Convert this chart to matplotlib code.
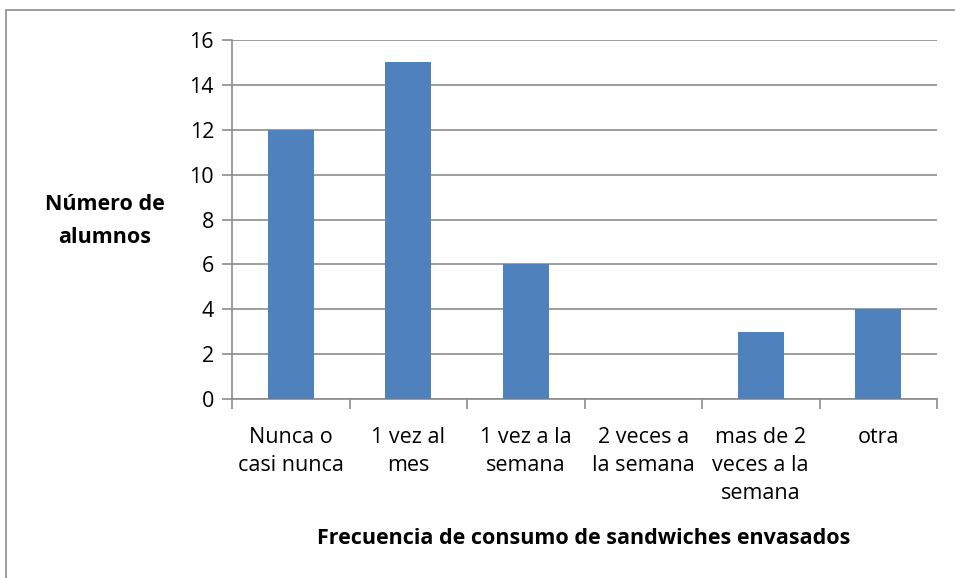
import matplotlib
matplotlib.use('Agg')
import matplotlib.pyplot as plt
from matplotlib.patches import Rectangle
import numpy as np

categorias = ['Nunca o\ncasi nunca', '1 vez al\nmes', '1 vez a la\nsemana',
              '2 veces a\nla semana', 'mas de 2\nveces a la\nsemana', 'otra']
alumnos = [12, 15, 6, 0, 3, 4]

plt.rcParams['font.family'] = ['Open Sans', 'DejaVu Sans']

fig = plt.figure(figsize=(9.55, 5.78), dpi=100)
ax = fig.add_axes([232/955, 1-399/578, 705/955, 359/578])

# chart border (only left/top visible in the crop)
fig.patches.append(Rectangle((6/955, -0.1), 1.2, 1.1-10/578, transform=fig.transFigure,
                             fill=False, edgecolor='#8c8c8c', linewidth=1.2))

x = np.arange(len(categorias))
ax.bar(x, alumnos, width=0.39, color='#4F81BD', zorder=3)

ax.set_xlim(-0.5, len(categorias)-0.5)
ax.set_ylim(0, 16)
ax.set_yticks(range(0, 17, 2))
ax.yaxis.grid(True, color='#8c8c8c', linewidth=1.2)
ax.set_axisbelow(True)

ax.set_xticks(x)
ax.set_xticklabels(categorias, fontsize=15.5, linespacing=1.45)
ax.set_xticks(np.arange(-0.5, len(categorias)), minor=True)
ax.tick_params(axis='x', which='major', length=0, pad=20)
ax.tick_params(axis='x', which='minor', length=7, width=1.2, color='#8c8c8c')
ax.tick_params(axis='y', length=7, width=1.2, color='#8c8c8c', labelsize=15.5, pad=6)

for s in ['top', 'right']:
    ax.spines[s].set_visible(False)
for s in ['left', 'bottom']:
    ax.spines[s].set_color('#8c8c8c')
    ax.spines[s].set_linewidth(1.2)

fig.text(105/955, 1-221/578, 'Número de\nalumnos', ha='center', va='center',
         fontsize=15.5, fontweight='bold', linespacing=1.75)
fig.text(584/955, 1-539/578, 'Frecuencia de consumo de sandwiches envasados',
         ha='center', va='center', fontsize=15.5, fontweight='bold')

fig.savefig('out.png', dpi=100)
